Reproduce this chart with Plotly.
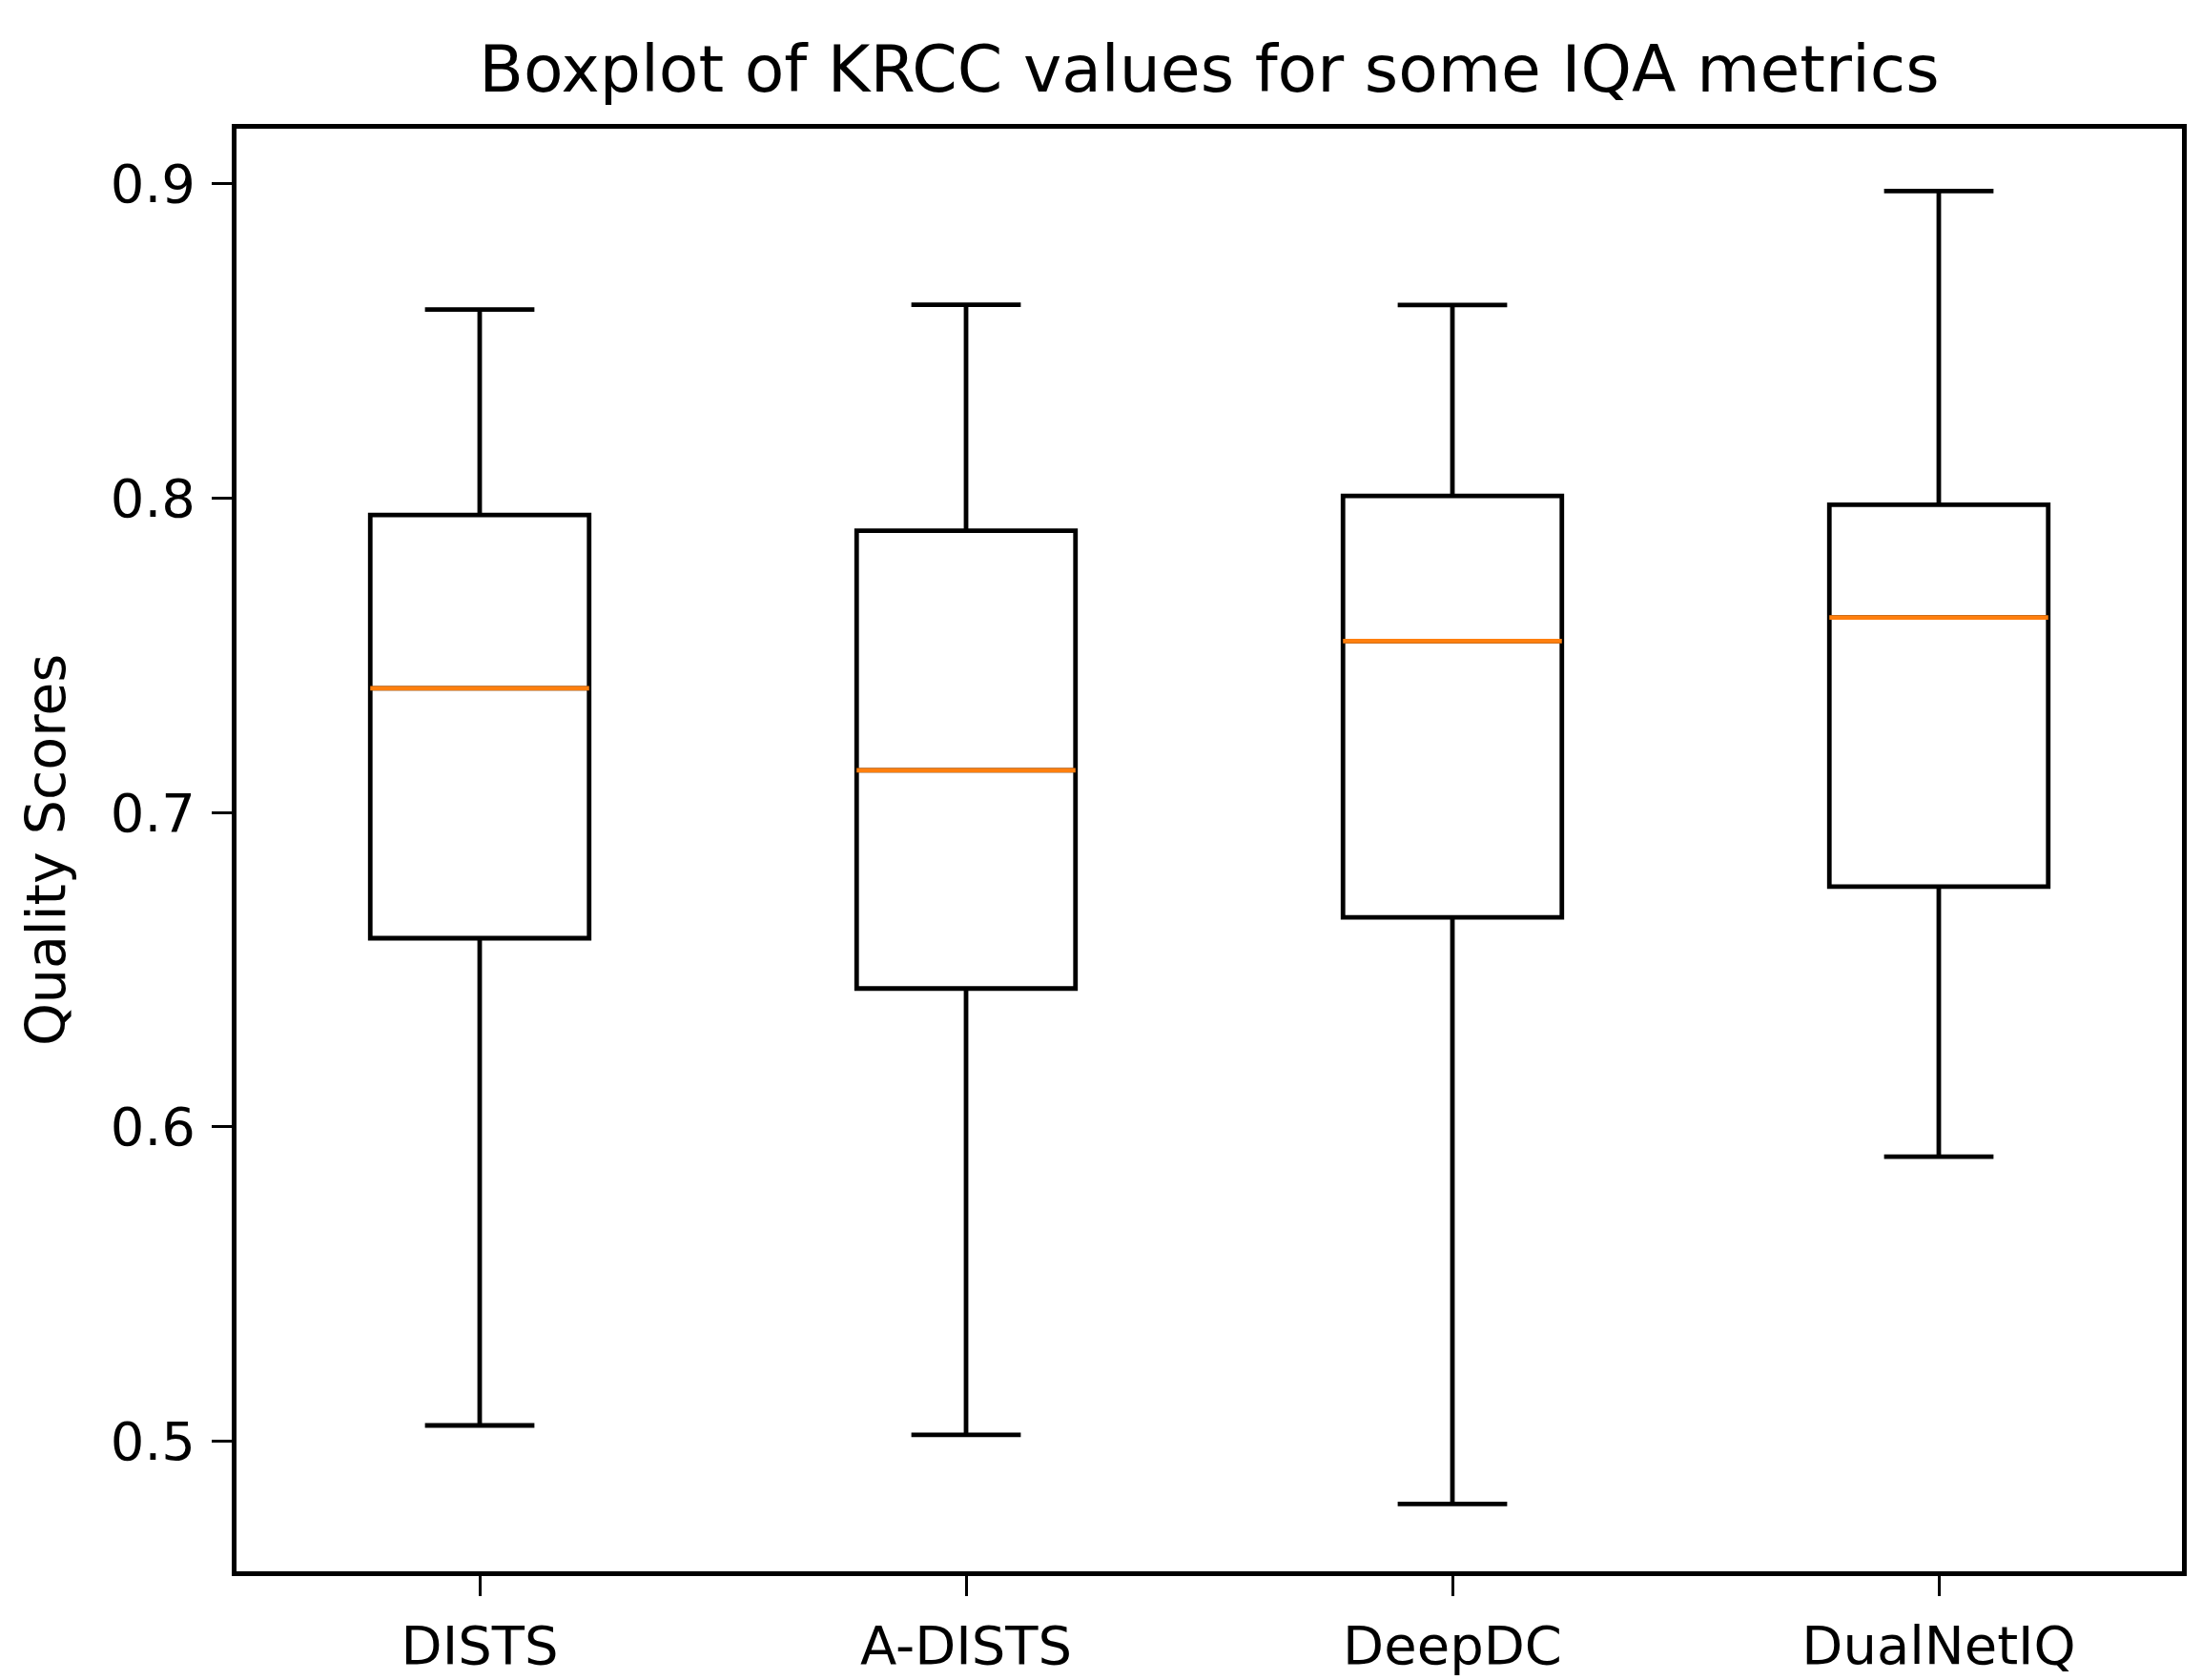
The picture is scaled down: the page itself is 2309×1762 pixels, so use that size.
import plotly.graph_objects as go

categories = ["DISTS", "A-DISTS", "DeepDC", "DualNetIQ"]
positions = [1, 2, 3, 4]
lower_whisker = [0.505, 0.502, 0.480, 0.5905]
q1_values = [0.660, 0.644, 0.6666, 0.6764]
median_values = [0.7395, 0.7134, 0.7545, 0.762]
q3_values = [0.7946, 0.7896, 0.8007, 0.7979]
upper_whisker = [0.860, 0.8615, 0.8614, 0.8977]
y_ticks = [0.5, 0.6, 0.7, 0.8, 0.9]

box_width = 0.45
FONT = "DejaVu Sans"
LW = 4.8

fig = go.Figure()
for i, name in enumerate(categories):
    fig.add_trace(go.Box(
        x=[positions[i]],
        q1=[q1_values[i]], median=[median_values[i]], q3=[q3_values[i]],
        lowerfence=[lower_whisker[i]], upperfence=[upper_whisker[i]],
        width=box_width, whiskerwidth=0.5,
        fillcolor="white", line=dict(color="black", width=LW),
        boxpoints=False, showlegend=False, name=name,
    ))
for i, name in enumerate(categories):
    fig.add_trace(go.Scatter(
        x=[positions[i] - box_width / 2, positions[i] + box_width / 2],
        y=[median_values[i], median_values[i]],
        mode="lines", line=dict(color="#ff7f0e", width=LW),
        showlegend=False, hoverinfo="skip",
    ))

fig.update_layout(
    width=2309, height=1762,
    margin=dict(l=240, r=29, t=127, b=117),
    paper_bgcolor="white", plot_bgcolor="white",
    font=dict(family=FONT, size=56, color="black"),
    title=dict(text="Boxplot of KRCC values for some IQA metrics",
               font=dict(family=FONT, size=68, color="black"),
               x=0.5, xanchor="center", xref="paper",
               y=1 - 64 / 1762, yanchor="middle", yref="container"),
)
fig.update_xaxes(
    range=[0.5, 4.5], tickmode="array", tickvals=positions, ticktext=categories,
    showline=True, mirror=True, linecolor="black", linewidth=LW,
    ticks="outside", ticklen=21, tickwidth=3, tickcolor="black",
    showgrid=False, zeroline=False, ticklabelstandoff=4,
)
fig.update_yaxes(
    range=[0.4586, 0.9175], tickmode="array", tickvals=y_ticks,
    ticktext=[f"{v:.1f}" for v in y_ticks],
    showline=True, mirror=True, linecolor="black", linewidth=LW,
    ticks="outside", ticklen=21, tickwidth=3, tickcolor="black",
    showgrid=False, zeroline=False, ticklabelstandoff=6,
    title=dict(text="Quality Scores", font=dict(family=FONT, size=57), standoff=30),
)

fig.write_html("out.html")
